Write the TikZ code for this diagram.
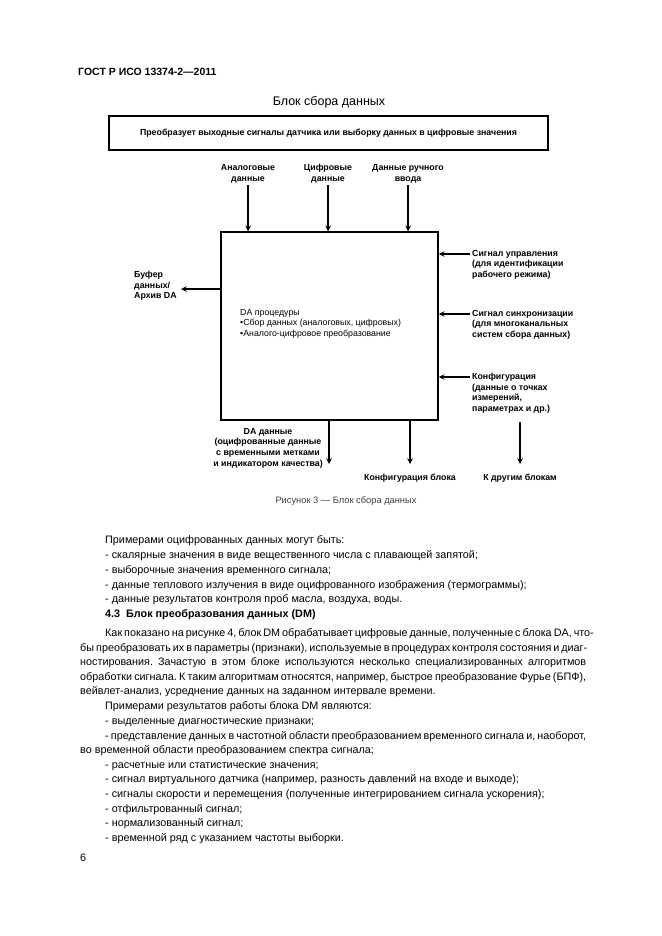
\documentclass[tikz,border=0pt]{standalone}
\usepackage{fontspec}
\setmainfont{Liberation Sans}
\frenchspacing
\usetikzlibrary{arrows}
\newcommand{\pline}[3]{\node[body,anchor=base west] (t#2) at (#1,#2+4) {#3};}
\newcommand{\jline}[4]{\node[body,anchor=base west] (t#2) at (#1,#2+4) {\makebox[#3pt][s]{#4}};}
\newcommand{\topIn}[3]{
	\node[lab,align=center,anchor=south] (#1) at (#2,183) {#3};
	\draw[flow] ([yshift=-2pt]#1.south) -- (#1.south |- da.north);
	}
\newcommand{\sideIn}[3]{
	\coordinate (#1) at (470,#2);
	\draw[flow] (#1) -- (#1 -| da.east);
	\node[lab,anchor=north west] (#1l) at (472,#2-4) {#3};
	}

\begin{document}
\begin{tikzpicture}[
      x=1pt,y=-1pt, %one pixel of the page
      block/.style={draw,line width=1.5pt,inner sep=0pt},
      flow/.style={line width=1.5pt,->,>=stealth},
      lab/.style={font=\fontsize{8.8}{10.6}\selectfont\bfseries,align=left,inner sep=0pt},
      inner/.style={font=\fontsize{8.8}{10.6}\selectfont,align=left,inner sep=0pt},
      body/.style={font=\fontsize{10.8}{12.9}\selectfont,inner sep=0pt},
      head/.style={font=\fontsize{10.5}{12}\selectfont\bfseries,inner sep=0pt},
      figcap/.style={font=\fontsize{9.3}{11}\selectfont,text=black!75,inner sep=0pt}
    ]
    \fill[white] (0,0) rectangle (661,936);
    \useasboundingbox (0,0) rectangle (661,936);
    % Page head and title
    \node[head,anchor=west] (gost) at (78,72) {ГОСТ Р ИСО 13374-2—2011};
    \node[font=\fontsize{12.5}{14}\selectfont,inner sep=0pt] (title) at (329,102) {Блок сбора данных};
    \node[block,minimum width=439pt,minimum height=34pt,font=\fontsize{8.8}{10.6}\selectfont\bfseries] (task) at (328.5,133)
      {Преобразует выходные сигналы датчика или выборку данных в цифровые значения};
    % The DA block
    \node[block,minimum width=217pt,minimum height=188pt] (da) at (329.5,326) {};
    \node[inner,anchor=north west] (proc) at (240,309) {DA процедуры\\•Сбор данных (аналоговых, цифровых)\\•Аналого-цифровое преобразование};
    % Inputs from above
    \topIn{anl}{248}{Аналоговые\\данные}
    \topIn{dig}{328}{Цифровые\\данные}
    \topIn{man}{408}{Данные ручного\\ввода}
    % Inputs from the right
    \sideIn{ctl}{254}{Сигнал управления\\(для идентификации\\рабочего режима)}
    \sideIn{syn}{314}{Сигнал синхронизации\\(для многоканальных\\систем сбора данных)}
    \sideIn{cnf}{377}{Конфигурация\\(данные о точках\\измерений,\\параметрах и др.)}
    % Outputs
    \coordinate (buf) at (181,289);
    \draw[flow] (da.west |- buf) -- (buf);
    \node[lab,anchor=north west] (bufl) at (134,271) {Буфер\\данных/\\Архив DA};
    \coordinate (daOut) at (329,464);
    \draw[flow] (daOut |- da.south) -- (daOut);
    \node[lab,align=center] (dadat) at (268,448) {DA данные\\(оцифрованные данные\\с временными метками\\и индикатором качества)};
    \coordinate (cfgOut) at (410,464);
    \draw[flow] (cfgOut |- da.south) -- (cfgOut);
    \node[lab] (cfg) at (410,478) {Конфигурация блока};
    \coordinate (othIn) at (520,422);
    \coordinate (othOut) at (520,464);
    \draw[flow] (othIn) -- (othOut);
    \node[lab] (oth) at (520,478) {К другим блокам};
    \node[figcap] (fig) at (346,501) {Рисунок 3 — Блок сбора данных};
    % Text of the page
    \pline{105}{539}{Примерами оцифрованных данных могут быть:}
    \pline{105}{554}{- скалярные значения в виде вещественного числа с плавающей запятой;}
    \pline{105}{569}{- выборочные значения временного сигнала;}
    \pline{105}{584}{- данные теплового излучения в виде оцифрованного изображения (термограммы);}
    \pline{105}{598}{- данные результатов контроля проб масла, воздуха, воды.}
    \pline{105}{613}{\bfseries 4.3\ \ Блок преобразования данных (DM)}
    \jline{105}{632}{481}{Как показано на рисунке 4, блок DM обрабатывает цифровые данные, полученные с блока DA, что-}
    \jline{80}{647}{506}{бы преобразовать их в параметры (признаки), используемые в процедурах контроля состояния и диаг-}
    \jline{80}{661}{506}{ностирования. Зачастую в этом блоке используются несколько специализированных алгоритмов}
    \jline{80}{676}{506}{обработки сигнала. К таким алгоритмам относятся, например, быстрое преобразование Фурье (БПФ),}
    \pline{80}{690}{вейвлет-анализ, усреднение данных на заданном интервале времени.}
    \pline{105}{705}{Примерами результатов работы блока DM являются:}
    \pline{105}{720}{- выделенные диагностические признаки;}
    \jline{105}{735}{481}{- представление данных в частотной области преобразованием временного сигнала и, наоборот,}
    \pline{80}{749}{во временной области преобразованием спектра сигнала;}
    \pline{105}{764}{- расчетные или статистические значения;}
    \pline{105}{778}{- сигнал виртуального датчика (например, разность давлений на входе и выходе);}
    \pline{105}{793}{- сигналы скорости и перемещения (полученные интегрированием сигнала ускорения);}
    \pline{105}{808}{- отфильтрованный сигнал;}
    \pline{105}{822}{- нормализованный сигнал;}
    \pline{105}{837}{- временной ряд с указанием частоты выборки.}
    \pline{80}{857}{6}
    \end{tikzpicture}
\end{document}
